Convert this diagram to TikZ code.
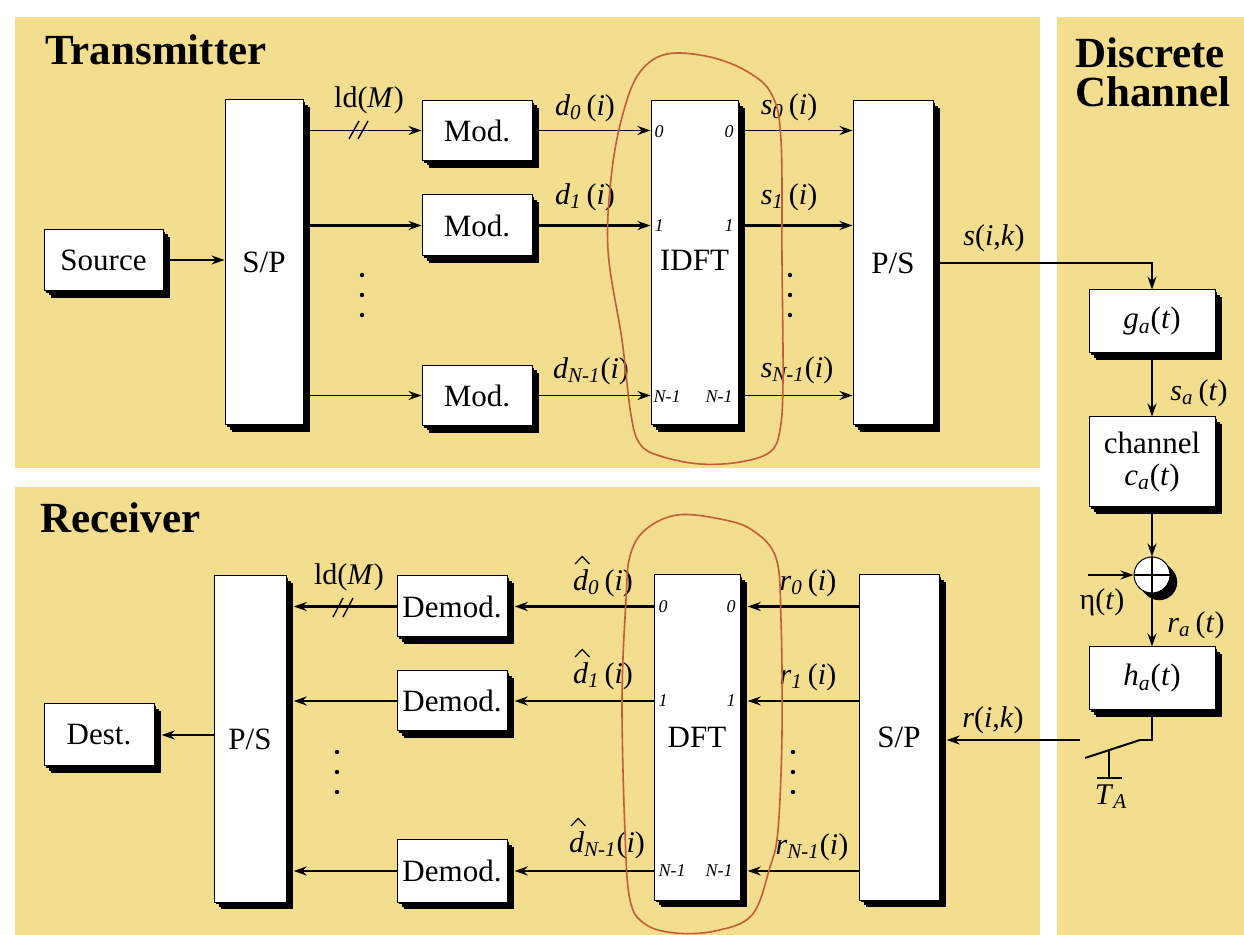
\documentclass[tikz,border=0pt]{standalone}
\usepackage{fontspec}
\setmainfont{Liberation Serif}
\usetikzlibrary{arrows.meta,shadows}
\definecolor{panel}{RGB}{243,221,143}
\definecolor{loopc}{RGB}{196,92,58}
\newcommand\sub[1]{\textsubscript{\textit{#1}}}
\begin{document}
\begin{tikzpicture}[x=0.5pt,y=-0.5pt,
  ext/.style={general shadow={fill=black,shadow xshift=1.2pt,shadow yshift=-1.2pt},
              general shadow={fill=black,shadow xshift=2.4pt,shadow yshift=-2.4pt},
              general shadow={fill=black,shadow xshift=3.6pt,shadow yshift=-3.6pt}},
  blk/.style={ext, draw=black, fill=white, line width=0.5pt, inner sep=0pt,
              font=\fontsize{15.5}{17}\selectfont, align=center},
  lbl/.style={inner sep=0pt, font=\fontsize{15}{17}\selectfont},
  port/.style={inner sep=0pt, font=\fontsize{9}{10}\selectfont\itshape},
  ttl/.style={inner sep=0pt, font=\fontsize{21.5}{23}\selectfont\bfseries},
  thn/.style={line width=0.7pt},
  thk/.style={line width=1.4pt},
  arr/.style={-{Stealth[length=6.5pt,width=4.5pt]}},
  redloop/.style={draw=loopc, line width=0.8pt},
  hatline/.style={line width=0.6pt}
]
\useasboundingbox (0,0) rectangle (1244,935);
\fill[white] (0,0) rectangle (1244,935);
% panels
\fill[panel] (15,17) rectangle (1040,468);
\fill[panel] (15,487) rectangle (1040,935);
\fill[panel] (1057,17) rectangle (1244,935);

% titles
\node[ttl, anchor=base west] (ttx) at (45,65) {Transmitter};
\node[ttl, anchor=base west] (trx) at (40,533) {Receiver};
\node[ttl, anchor=base west] (tch1) at (1075,68) {Discrete};
\node[ttl, anchor=base west] (tch2) at (1075,107) {Channel};

% ---------------- transmitter ----------------
\node[blk, minimum width=59.5pt, minimum height=30.5pt] (src) at (103.5,260) {Source};
\node[blk, minimum width=39pt, minimum height=162.5pt] (sptx) at (264,262.5) {S/P};
\node[blk, minimum width=55pt, minimum height=30pt] (mod0) at (477,130.5) {Mod.};
\node[blk, minimum width=55pt, minimum height=30.5pt] (mod1) at (477,225.5) {Mod.};
\node[blk, minimum width=55pt, minimum height=30pt] (mod2) at (477,395.5) {Mod.};
\node[blk, minimum width=43.5pt, minimum height=162pt] (idft) at (694.5,263) {};
\node[blk, minimum width=40pt, minimum height=162pt] (pstx) at (893,263) {P/S};
\node[lbl, font=\fontsize{15.5}{17}\selectfont] (idftt) at (694.5,260) {IDFT};

\draw[arr,thn] (src.east) -- (sptx.west |- src.east);
\draw[arr,thn] (sptx.east |- mod0) -- (mod0.west);
\draw[arr,thk] (sptx.east |- mod1) -- (mod1.west);
\draw[arr,thn] (sptx.east |- mod2) -- (mod2.west);
\draw[arr,thn] (mod0.east) -- (idft.west |- mod0);
\draw[arr,thk] (mod1.east) -- (idft.west |- mod1);
\draw[arr,thn] (mod2.east) -- (idft.west |- mod2);
\draw[arr,thn] (idft.east |- mod0) -- (pstx.west |- mod0);
\draw[arr,thk] (idft.east |- mod1) -- (pstx.west |- mod1);
\draw[arr,thn] (idft.east |- mod2) -- (pstx.west |- mod2);

% bus marks
\draw[thn] (349,139) -- (359,121);
\draw[thn] (358,139) -- (368,121);
\node[lbl] (ldtx) at (369,100) {ld(\textit{M})};

% dots
\foreach \yy in {275,295,315} {\fill (362,\yy) circle (1.1pt); \fill (790,\yy) circle (1.1pt);}

% port labels IDFT
\node[port] (ti0) at (659,132) {0};
\node[port] (to0) at (729,132) {0};
\node[port] (ti1) at (659,226) {1};
\node[port] (to1) at (729,226) {1};
\node[port] (ti2) at (667,397) {N-1};
\node[port] (to2) at (719,397) {N-1};

% signal labels tx
\node[lbl] (d0) at (585,108) {\textit{d}\sub{0}\,(\textit{i})};
\node[lbl] (d1) at (585,197) {\textit{d}\sub{1}\,(\textit{i})};
\node[lbl] (d2) at (591,371) {\textit{d}\sub{N-1}(\textit{i})};
\node[lbl] (s0) at (789,107) {\textit{s}\sub{0}\,(\textit{i})};
\node[lbl] (s1) at (789,197) {\textit{s}\sub{1}\,(\textit{i})};
\node[lbl] (s2) at (797,370) {\textit{s}\sub{N-1}(\textit{i})};
\node[lbl] (sik) at (994,238) {\textit{s}(\textit{i},\textit{k})};

% ---------------- channel ----------------
\node[blk, minimum width=63pt, minimum height=31.5pt] (ga) at (1152,321.5) {\textit{g}\sub{a}(\textit{t})};
\node[blk, minimum width=63pt, minimum height=45pt] (ch) at (1152,462) {channel\\[-1pt]\textit{c}\sub{a}(\textit{t})};
\node[ext, circle, draw=black, fill=white, line width=0.5pt, minimum size=18pt, inner sep=0pt] (sum) at (1152,575) {};
\draw[thn] (sum.north) -- (sum.south) (sum.west) -- (sum.east);
\node[blk, minimum width=63pt, minimum height=31.5pt] (ha) at (1152,678.5) {\textit{h}\sub{a}(\textit{t})};

\draw[arr,thn] (pstx.east) -| (ga.north);
\draw[arr,thk] (ga.south) -- (ch.north);
\draw[arr,thk] (ch.south) -- (sum.north);
\coordinate (eta) at (1088,575);
\draw[arr,thn] (eta) -- (sum.west);
\draw[arr,thk] (sum.south) -- (ha.north);
\node[lbl] (sat) at (1199,393) {\textit{s}\sub{a}\,(\textit{t})};
\node[lbl] (etat) at (1102,602) {η(\textit{t})};
\node[lbl] (rat) at (1196,625) {\textit{r}\sub{a}\,(\textit{t})};

% sampler switch
\coordinate (sw1) at (1140,740);
\coordinate (sw2) at (1085,758);
\coordinate (rin) at (1080,740);
\draw[thk] (ha.south) |- (sw1);
\draw[line width=1pt] (sw1) -- (sw2);
\draw[thk] (1109,750) -- (1109,778);
\draw[thk] (1097,778) -- (1122,778);
\node[lbl] (ta) at (1111,797) {\textit{T}\sub{A}};

% ---------------- receiver ----------------
\node[blk, minimum width=36pt, minimum height=163pt] (psrx) at (250,739) {P/S};
\node[blk, minimum width=55pt, minimum height=31pt] (dest) at (99,735) {Dest.};
\node[blk, minimum width=55pt, minimum height=30.5pt] (dem0) at (452,606.5) {Demod.};
\node[blk, minimum width=55pt, minimum height=30pt] (dem1) at (452,701) {Demod.};
\node[blk, minimum width=55pt, minimum height=31pt] (dem2) at (452,871) {Demod.};
\node[blk, minimum width=43pt, minimum height=162.5pt] (dft) at (697,737.5) {};
\node[lbl, font=\fontsize{15.5}{17}\selectfont] (dftt) at (697,737) {DFT};
\node[blk, minimum width=40pt, minimum height=162.5pt] (sprx) at (899,737.5) {S/P};

\draw[arr,thk] (rin) -- ([xshift=3.6pt]sprx.east |- rin);
\draw[arr,thk] (sprx.west |- dem0) -- ([xshift=3.6pt]dft.east |- dem0);
\draw[arr,thn] (sprx.west |- dem1) -- ([xshift=3.6pt]dft.east |- dem1);
\draw[arr,thk] (sprx.west |- dem2) -- ([xshift=3.6pt]dft.east |- dem2);
\draw[arr,thk] (dft.west |- dem0) -- ([xshift=3.6pt]dem0.east);
\draw[arr,thn] (dft.west |- dem1) -- ([xshift=3.6pt]dem1.east);
\draw[arr,thk] (dft.west |- dem2) -- ([xshift=3.6pt]dem2.east);
\draw[arr,thk] (dem0.west) -- ([xshift=3.6pt]psrx.east |- dem0);
\draw[arr,thn] (dem1.west) -- ([xshift=3.6pt]psrx.east |- dem1);
\draw[arr,thk] (dem2.west) -- ([xshift=3.6pt]psrx.east |- dem2);
\draw[arr,thk] (psrx.west |- dest) -- ([xshift=3.6pt]dest.east);

\draw[thn] (333,617) -- (343,598);
\draw[thn] (343,617) -- (353,598);
\node[lbl] (ldrx) at (349,577) {ld(\textit{M})};

\foreach \yy in {752,772,792} {\fill (337,\yy) circle (1.1pt); \fill (793,\yy) circle (1.1pt);}

\node[port] (ri0) at (663,607) {0};
\node[port] (ro0) at (731,607) {0};
\node[port] (ri1) at (663,701) {1};
\node[port] (ro1) at (731,701) {1};
\node[port] (ri2) at (672,871) {N-1};
\node[port] (ro2) at (719,871) {N-1};

\node[lbl] (hd0) at (603,583) {\textit{d}\sub{0}\,(\textit{i})};
\node[lbl] (hd1) at (603,676) {\textit{d}\sub{1}\,(\textit{i})};
\node[lbl] (hd2) at (607,845) {\textit{d}\sub{N-1}(\textit{i})};
\foreach \n in {hd0,hd1,hd2}
  \draw[hatline] ([xshift=1.2pt,yshift=2.5pt]\n.north west) -- ++(3.6pt,3.8pt) -- ++(3.6pt,-3.8pt);
\node[lbl] (r0) at (808,583) {\textit{r}\sub{0}\,(\textit{i})};
\node[lbl] (r1) at (808,677) {\textit{r}\sub{1}\,(\textit{i})};
\node[lbl] (r2) at (812,847) {\textit{r}\sub{N-1}(\textit{i})};
\node[lbl] (rik) at (993,720) {\textit{r}(\textit{i},\textit{k})};

% ---------------- hand-drawn loops ----------------
\draw[redloop] plot[smooth cycle, tension=0.6] coordinates {
 (667,54) (710,57) (748,72) (772,95) (781,140) (782,260) (783,380) (780,430)
 (770,452) (740,462) (700,464) (660,456) (640,444) (631,415) (622,340)
 (608,250) (612,170) (624,110) (640,72)};
\draw[redloop] plot[smooth cycle, tension=0.6] coordinates {
 (677,515) (720,519) (752,530) (776,558) (781,620) (782,733) (778,830)
 (770,867) (752,915) (715,931) (675,933) (645,924) (630,900) (625,833)
 (622,700) (626,600) (630,556) (645,530)};
\end{tikzpicture}
\end{document}
